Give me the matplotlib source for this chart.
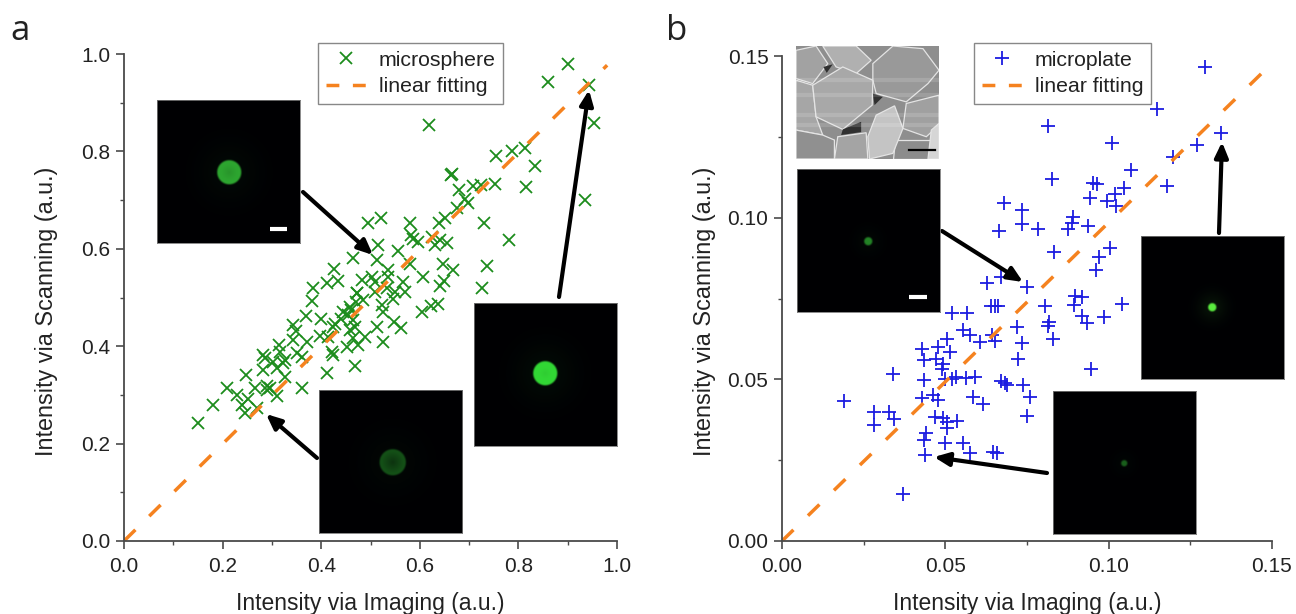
import numpy as np
import matplotlib
matplotlib.use('Agg')
import matplotlib.pyplot as plt
from matplotlib.patches import Polygon

plt.rcParams['font.family'] = ['Liberation Sans', 'DejaVu Sans']

W, H = 1296, 614

sphere_x = [.90,.86,.943,.953,.935,.619,.755,.787,.813,.834,.815,.663,.665,.752,.724,.708,.68,.698,.692,.675,
            .73,.781,.651,.639,.58,.521,.495,.582,.586,.596,.631,.641,.655,.625,.515,.556,.513,.465,.647,.667,
            .736,.58,.606,.649,.641,.726,.535,.426,.412,.434,.383,.483,.503,.509,.535,.566,.57,.55,.473,.509,
            .533,.381,.473,.485,.523,.525,.546,.604,.623,.637,.369,.40,.444,.458,.454,.465,.469,.428,.513,.548,
            .562,.343,.349,.398,.424,.414,.458,.489,.465,.475,.452,.525,.343,.371,.314,.316,.282,.286,.351,.361,
            .327,.302,.422,.424,.323,.282,.31,.412,.469,.247,.327,.209,.266,.29,.296,.361,.229,.31,.252,.239,
            .27,.245,.181,.15,.29,.46,.47,.44]
sphere_y = [.98,.943,.936,.858,.70,.854,.79,.80,.807,.77,.727,.752,.754,.733,.731,.729,.721,.694,.702,.684,
            .653,.618,.663,.653,.653,.663,.653,.628,.62,.614,.608,.618,.612,.624,.608,.595,.577,.581,.569,.556,
            .565,.569,.542,.534,.524,.519,.556,.559,.53,.534,.52,.536,.542,.532,.542,.532,.511,.511,.509,.511,
            .519,.493,.509,.495,.485,.47,.497,.47,.483,.487,.462,.456,.47,.48,.464,.454,.44,.446,.44,.45,
            .437,.444,.431,.421,.44,.419,.433,.419,.417,.402,.398,.409,.413,.409,.402,.388,.382,.376,.386,.378,
            .372,.368,.388,.382,.365,.351,.355,.345,.359,.341,.337,.314,.314,.318,.314,.314,.30,.298,.292,.279,
            .273,.263,.279,.242,.31,.475,.49,.455]

plate_x = [.1295,.1148,.0814,.101,.1344,.127,.1197,.1068,.0826,.1178,.0952,.0964,.1047,.0943,.1019,.0995,.1022,.068,.0735,.0664,
           .0735,.0784,.0891,.0888,.0875,.0937,.0833,.1004,.097,.0961,.0627,.067,.075,.0805,.0897,.0918,.0894,.1041,.052,.0566,
           .064,.0652,.0661,.0719,.0817,.0814,.0918,.0934,.0986,.0554,.0575,.0505,.0643,.0606,.0652,.0735,.083,.0429,.0478,.0514,
           .0435,.0471,.0493,.049,.0722,.0946,.034,.0435,.0499,.052,.0533,.0563,.0591,.067,.0683,.0689,.0738,.019,.0429,.0462,
           .0478,.0585,.0615,.0759,.0282,.0328,.0343,.0282,.075,.0468,.0493,.0505,.0536,.0505,.0441,.0435,.0499,.0554,.0575,.0646,
           .0658,.0438,.037]
plate_y = [.1466,.1336,.1284,.1231,.1262,.1225,.1188,.1148,.112,.1098,.1107,.1104,.1092,.1061,.1073,.1052,.1036,.1045,.1024,.0959,
           .098,.0965,.1002,.0984,.0965,.0974,.0894,.0906,.0878,.0838,.0798,.0817,.0786,.0727,.0758,.0755,.073,.0733,.0705,.0705,
           .0727,.0727,.0727,.0662,.0677,.0665,.0696,.0674,.0693,.0653,.0637,.0625,.0637,.0616,.0619,.0612,.0625,.0594,.06,.0585,
           .056,.0563,.0547,.0532,.0563,.0532,.0517,.0498,.0501,.0501,.0507,.0504,.0507,.0495,.0489,.0483,.0483,.0433,.0442,.0452,
           .0436,.0445,.0424,.0445,.0399,.0399,.0377,.0359,.0387,.0384,.038,.0368,.0371,.035,.0334,.0312,.0303,.0303,.0272,.0275,
           .0272,.0266,.0145]

fit_a_x = [0, .98]
fit_a_y = [0, .977]
fit_b_x = [0, .147]
fit_b_y = [0, .1448]

ticks_a = [0, .2, .4, .6, .8, 1.0]
ticks_b = [0, .05, .10, .15]

INK = '#222222'
GREEN = '#1c8c1c'
BLUE = '#1c1ce0'
ORANGE = '#f5821f'
AXC = '#4a4a4a'


def px_axes(l, t, r, b, **kw):
    return fig.add_axes([l / W, 1 - b / H, (r - l) / W, (b - t) / H], **kw)


def spot(l, t, size, cx, cy, r, col, glow=0.05, hollow=0.0, scalebar=None):
    ax = px_axes(l, t, l + size, t + size, zorder=5)
    yy, xx = np.mgrid[0:size * 2, 0:size * 2] / 2.0
    d = np.hypot(xx - (cx - l), yy - (cy - t))
    core = np.clip((r + 1 - d) / 2, 0, 1) * (1 - hollow * np.clip(1 - d / r, 0, 1))
    halo = glow * np.exp(-(d / (r * 2.0 + 6)) ** 2)
    amt = np.clip(core + halo, 0, 1)[..., None]
    img = amt * np.array(col) / 255.0 + np.array([0, 0, 0.01])
    ax.imshow(np.clip(img, 0, 1), extent=(0, size, size, 0), aspect='auto', interpolation='bilinear')
    if scalebar:
        ax.plot([scalebar[0] - l, scalebar[1] - l], [scalebar[2] - t] * 2, color='white', lw=3, solid_capstyle='butt')
    ax.set_xlim(0, size)
    ax.set_ylim(size, 0)
    ax.set_xticks([])
    ax.set_yticks([])
    for s in ax.spines.values():
        s.set_color('#777777')
        s.set_linewidth(0.6)


def arrow(ax, start, tip):
    ax.annotate('', xy=(tip[0], H - tip[1]), xytext=(start[0], H - start[1]),
                xycoords='figure pixels', textcoords='figure pixels', annotation_clip=False, zorder=6,
                arrowprops=dict(arrowstyle='-|>,head_width=0.4,head_length=0.9', lw=3.0, color='black',
                                shrinkA=0, shrinkB=0))


def style(ax, ticks, minor, fmt, xlab_x, xlab_y, ylab_x, ylab_y):
    for s in ['top', 'right']:
        ax.spines[s].set_visible(False)
    for s in ['left', 'bottom']:
        ax.spines[s].set_color(AXC)
        ax.spines[s].set_linewidth(1.3)
    ax.set_xticks(ticks)
    ax.set_yticks(ticks)
    ax.set_xticks(minor, minor=True)
    ax.set_yticks(minor, minor=True)
    ax.set_xticklabels([fmt % t for t in ticks])
    ax.set_yticklabels([fmt % t for t in ticks])
    ax.tick_params(which='major', length=5.8, width=1.2, color=AXC, labelsize=15, labelcolor=INK, pad=4)
    ax.tick_params(axis='x', which='major', pad=5.5)
    ax.tick_params(which='minor', length=3, width=1.0, color=AXC)
    ax.set_xlabel('Intensity via Imaging (a.u.)', fontsize=16.5, color=INK)
    ax.set_ylabel('Intensity via Scanning (a.u.)', fontsize=16.8, color=INK)
    ax.xaxis.set_label_coords(xlab_x, xlab_y)
    ax.yaxis.set_label_coords(ylab_x, ylab_y)


def legend(ax, left):
    leg = ax.legend(loc='upper left', bbox_to_anchor=(left / W, 1 - 43 / H), bbox_transform=fig.transFigure,
                    fontsize=15.3, fancybox=False, framealpha=1, edgecolor='#888888', borderaxespad=0,
                    handlelength=1.95, handletextpad=0.55, labelspacing=0.35, borderpad=0.36, labelcolor=INK)
    leg.get_lines()[1].set_dashes((3.7, 3.9))


fig = plt.figure(figsize=(W / 100, H / 100), dpi=100)

# panel a
ax1 = px_axes(124, 54, 617, 541)
ax1.plot(sphere_x, sphere_y, 'x', color=GREEN, ms=8.2, mew=1.3, label='microsphere', clip_on=False)
ax1.plot(fit_a_x, fit_a_y, color=ORANGE, lw=2.5, dashes=(4.6, 5.6), label='linear fitting')
ax1.set_xlim(0, 1)
ax1.set_ylim(0, 1)
style(ax1, ticks_a, [.1, .3, .5, .7, .9], '%.1f', .499, -51 / 487, -66 / 493, 230 / 487)
legend(ax1, 318)

# panel b
ax2 = px_axes(782, 56, 1272, 541)
ax2.plot(plate_x, plate_y, '+', color=BLUE, ms=10.5, mew=1.3, label='microplate', clip_on=False)
ax2.plot(fit_b_x, fit_b_y, color=ORANGE, lw=2.5, dashes=(4.6, 5.85), label='linear fitting')
ax2.set_xlim(0, .15)
ax2.set_ylim(0, .15)
style(ax2, ticks_b, [.025, .075, .125], '%.2f', .5, -51 / 485, -66 / 490, 230 / 485)
legend(ax2, 974)

# fluorescence insets
spot(157, 100, 143, 229, 172, 12, (45, 165, 45), hollow=0.15, scalebar=(270, 287, 229))
spot(319, 390, 143, 392, 462, 13, (20, 80, 20), glow=0.08, hollow=0.45)
spot(474, 303, 143, 545, 373, 12, (50, 215, 50), hollow=0.1)
spot(797, 169, 143, 868, 241, 4, (35, 130, 35), scalebar=(909, 927, 297))
spot(1141, 236, 143, 1212, 307, 4, (90, 235, 60), glow=0.08)
spot(1053, 391, 143, 1124, 463, 3, (25, 95, 25))

# SEM inset
sem = px_axes(796, 46, 939, 159, zorder=5)
sem.set_facecolor('#8e8e8e')
plates = [
    ([(50, 30), (110, 17), (145, 70), (100, 130), (50, 115)], '#a2a2a2'),
    ([(130, 17), (230, 17), (275, 60), (230, 100), (170, 80)], '#b0b0b0'),
    ([(280, 70), (340, 17), (430, 25), (478, 90), (445, 130), (380, 185), (290, 160), (280, 120)], '#999999'),
    ([(50, 120), (100, 135), (110, 230), (130, 285), (50, 270)], '#a6a6a6'),
    ([(100, 135), (190, 80), (280, 120), (278, 195), (190, 268), (110, 230)], '#a8a8a8'),
    ([(380, 190), (478, 165), (478, 255), (440, 290), (370, 265)], '#a0a0a0'),
    ([(50, 270), (130, 285), (165, 300), (165, 357), (50, 357)], '#909090'),
    ([(165, 357), (175, 290), (260, 278), (265, 357)], '#a4a4a4'),
    ([(345, 300), (440, 300), (478, 300), (478, 357), (340, 357)], '#8c8c8c'),
    ([(265, 290), (290, 225), (345, 197), (370, 265), (340, 340), (270, 357)], '#c4c4c4'),
    ([(445, 357), (455, 270), (478, 250), (478, 357)], '#d6d6d6'),
]
for pts, c in plates:
    sem.add_patch(Polygon(pts, closed=True, facecolor=c, edgecolor='#e4e4e4', lw=0.9))
gaps = [
    [(132, 80), (160, 72), (142, 98)],
    [(280, 160), (310, 170), (285, 195)],
    [(190, 268), (245, 245), (245, 276), (185, 285)],
]
for pts in gaps:
    sem.add_patch(Polygon(pts, closed=True, facecolor='#303030', edgecolor='none'))
for band_y in [120, 165, 225, 255]:
    sem.axhline(band_y, color='white', alpha=0.14, lw=3)
sem.plot([388, 465], [330, 330], color='black', lw=1.6)
sem.set_xlim(50, 478)
sem.set_ylim(357, 17)
sem.set_xticks([])
sem.set_yticks([])
for s in sem.spines.values():
    s.set_visible(False)

arrow(ax1, (303, 192), (373, 255))
arrow(ax1, (559, 297), (589, 90))
arrow(ax1, (317, 458), (266, 414))
arrow(ax2, (942, 231), (1023, 282))
arrow(ax2, (1219, 233), (1222, 142))
arrow(ax2, (1047, 473), (934, 457))

fig.text(10 / W, 1 - 40 / H, 'a', fontsize=25, color=INK, family='Open Sans')
fig.text(666 / W, 1 - 40 / H, 'b', fontsize=25, color=INK, family='Open Sans')

fig.savefig('out.png', dpi=100)
